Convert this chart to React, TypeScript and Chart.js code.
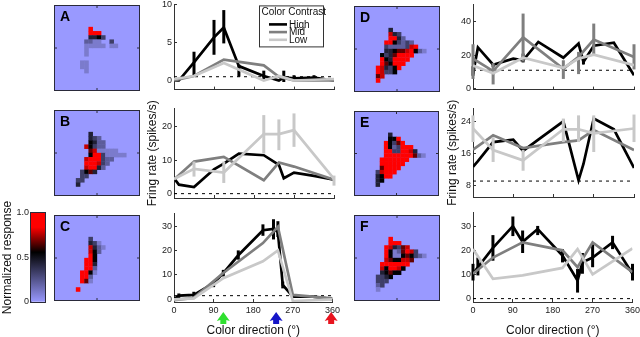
import React, { useEffect, useRef } from "react";
import { Chart, registerables } from "chart.js";

Chart.register(...registerables);
Chart.defaults.font.family = '"Liberation Sans", Arial, sans-serif';
Chart.defaults.color = "#111";

const FONT = '"Liberation Sans", Arial, sans-serif';

// ---------- Data ----------
const contrastLabels = ["High", "Mid", "Low"];
const contrastColors = ["#000000", "#7f7f7f", "#c8c8c8"];
const legendTitle = "Color Contrast";
const xTitle = "Color direction (°)";
const yTitle = "Fring rate (spikes/s)";
const barTitle = "Normalized response";

const fineDirs = [0, 11, 45, 90, 112, 146, 202, 236, 247, 270, 315, 360];
const coarseDirs = [0, 45, 112, 202, 236, 270, 360];
const cHighDirs = [0, 11, 45, 90, 112, 146, 202, 226, 236, 247, 270, 315, 360];

const aHigh = [0, 0, 2.4, 5.7, 7, 1.9, 0.6, 0, 0.4, 0.3, 0.4, 0];
const aHighLo = [null, null, 0.7, 3.4, 4.9, 0.5, 0.2, null, -0.2, 0, 0.1, null];
const aHighHi = [null, null, 3.8, 8, 9.3, 2.1, 1.3, null, 1.3, 0.7, 0.7, null];
const aMid = [0, 0.6, 2.75, 2, 0.5, 0, 0];
const aLow = [0.2, 0.6, 2.3, 0, 0.6, 0, 0.2];

const bHigh = [4.6, 2.7, 2, 7.3, 9, 12, 11.5, 8.6, 4.6, 6.3, 5.3, 4.2];
const bMid = [4.2, 9.6, 11, 4, 9.3, 8.1, 4.2];
const bLow = [4.4, 7.4, 6.3, 17.8, 17.8, 19, 4.4];
const bLowLo = [null, 5.1, 3.2, 12, 13, 14, 2.4];
const bLowHi = [null, 9.6, 9.6, 23.5, 22.2, 24, 5.4];

const cHigh = [0, 1.4, 1.7, 6.5, 10.7, 18, 28.3, 28.8, 27.5, 5.8, 1, 1, 0];
const cHighLo = [null, 0.3, 1, 4.9, 9.3, 16.2, 26, 24.5, 25.5, 4.4, null, null, null];
const cHighHi = [null, 2.3, 3, 5.8, 12, 20, 30.7, 32.8, 32, 7.2, null, null, null];
const cMid = [-0.4, 0.5, 10.7, 23, 29.7, 1.7, 0.3];
const cLow = [-0.1, 0.3, 8.6, 15.5, 20, -0.8, -0.1];

const dHigh = [8.7, 24.7, 14.3, 18, 17, 28, 18.5, 27, 16, 25.7, 27.5, 8];
const dHighLo = [7.7, null, 13, null, 15.7, null, null, null, 14.5, null, null, null];
const dHighHi = [13.4, null, 15.3, null, 21, null, null, null, 17.5, null, null, null];
const dMid = [18, 10.5, 30.7, 11.9, 19, 29.4, 19];
const dMidLo = [5.8, 2.5, 16.2, 5.8, 8.7, 20, 11.5];
const dMidHi = [26.6, 15.3, 45, 17, 22, 39, 26.6];
const dLow = [13.8, 9.2, 18.5, 12.4, 18, 20.4, 14];

const eHigh = [12.6, 14, 18.8, 19.4, 16.6, 19.4, 24, 9.2, 13.3, 24.7, 22, 12.3];
const eMid = [16.9, 20.5, 17.3, 18.8, 19.2, 21.8, 16.8];
const eLow = [22.2, 16.8, 14.2, 22, 22, 21, 22.2];
const eLowLo = [18.8, 13.8, 11.6, 18.8, 18.8, 16.3, 18.8];
const eLowHi = [25.5, 20, 16.8, 24.7, 25.5, 25.5, 25.7];

const fHigh = [10.3, 13, 21, 30, 23.5, 28.8, 17.8, 7.5, 15, 17, 23.3, 10.3];
const fHighLo = [7.5, 9.6, 15.7, 25.9, 18.9, 26.3, 15, 2.5, 10.3, 13, 20.5, 7.5];
const fHighHi = [14.4, 17, 26.3, 34, 28.2, 30.1, 20.5, 12.3, 18.9, 22.5, 26, 14.4];
const fMid = [10.3, 17, 23.3, 20, 13, 23.3, 11];
const fLow = [20.5, 8.2, 9.6, 12.7, 20.5, 10, 20.8];

const arrowDirs = [112, 232, 357];
const arrowColors = ["#2fe02f", "#1616c8", "#e8141e"];

// Heat-map cells, one string per row: "." = 0, digits = ninths of the response
const heatA = ["", "", "", "", "",
  "........9", "........988", "........4453", ".......2211..3", ".......11111.11",
  ".......1", ".......1", "", "......11", "......11", ".......1"];
const heatB = ["", "", "", "", "",
  "........4", "........432", "........5422", ".......75322", "........6711111",
  "........599311111", ".......7899322", ".......999732", ".......79942", "......3564",
  "......33", ".....33", ".....4"];
const heatC = ["", "", "", "", "",
  "........3", "........431", "........7421", "........752", "........85",
  ".......895", ".......994", ".......982", "......9951", "......982",
  "......961", "", ".....9"];
const heatD = ["", "", "", "", "",
  "........4", "........743", "........9942", ".......9953232", ".......32222379",
  ".......4456678521", "......53469999", "......8548999", "......865999", ".....874358",
  ".....97335", ".....67", ".....8"];
const heatE = ["", "", "", "", "",
  "........4", "........558", ".......85368", ".......8523888", ".......88338974",
  ".......9999998621", "......9999999", "......899999", "......69999", ".....37999",
  ".....4589", ".....45", ".....4"];
const heatF = ["", "", "", "", "",
  "........9", "........988", ".......874367", ".......95126873", ".......8511565321",
  ".......7655776", "......8998998", "......759975", "......45655", ".....3345",
  ".....333", ".....23", ".....1"];

// ---------- Helpers ----------
const LOW_RGB = [153, 153, 255];
function responseColor(v: number) {
  if (v <= 0.56) {
    const t = 1 - v / 0.56;
    return `rgb(${LOW_RGB.map((c) => Math.round(c * t)).join(",")})`;
  }
  const t = Math.min(1, (v - 0.56) / 0.28);
  return `rgb(${Math.round(255 * t)},0,0)`;
}

const errorBarsPlugin = {
  id: "errorBars",
  afterDatasetDraw(chart: any, args: any) {
    const ds = chart.data.datasets[args.index];
    if (!ds.lo) return;
    const { ctx, scales } = chart;
    ctx.save();
    ctx.strokeStyle = ds.borderColor;
    ctx.lineWidth = 3;
    ds.data.forEach((p: any, i: number) => {
      if (ds.lo[i] == null) return;
      const x = scales.x.getPixelForValue(p.x);
      ctx.beginPath();
      ctx.moveTo(x, scales.y.getPixelForValue(ds.lo[i]));
      ctx.lineTo(x, scales.y.getPixelForValue(ds.hi[i]));
      ctx.stroke();
    });
    ctx.restore();
  },
};

const legendPlugin = {
  id: "contrastLegend",
  afterDraw(chart: any) {
    const { ctx, chartArea } = chart;
    const left = chartArea.left + 85;
    const top = chartArea.top + 1;
    ctx.save();
    ctx.fillStyle = "#fff";
    ctx.strokeStyle = "#333";
    ctx.lineWidth = 1;
    ctx.fillRect(left, top, 65, 42);
    ctx.strokeRect(left + 0.5, top + 0.5, 64, 41);
    ctx.fillStyle = "#111";
    ctx.font = `10px ${FONT}`;
    ctx.textBaseline = "middle";
    ctx.textAlign = "left";
    ctx.fillText(legendTitle, left + 2.5, top + 6.5);
    contrastLabels.forEach((label, i) => {
      const y = top + 19 + i * 7.7;
      ctx.strokeStyle = contrastColors[i];
      ctx.lineWidth = 2.6;
      ctx.beginPath();
      ctx.moveTo(left + 10, y);
      ctx.lineTo(left + 28, y);
      ctx.stroke();
      ctx.fillStyle = "#111";
      ctx.fillText(label, left + 30, y + 0.5);
    });
    ctx.restore();
  },
};

const arrowsPlugin = {
  id: "arrows",
  afterDraw(chart: any) {
    const { ctx, scales, chartArea } = chart;
    const tip = chartArea.bottom + 10;
    ctx.save();
    arrowDirs.forEach((d, i) => {
      const x = scales.x.getPixelForValue(d);
      ctx.fillStyle = arrowColors[i];
      ctx.beginPath();
      ctx.moveTo(x, tip);
      ctx.lineTo(x + 6.5, tip + 9);
      ctx.lineTo(x + 3, tip + 8);
      ctx.lineTo(x + 3, tip + 12);
      ctx.lineTo(x - 3, tip + 12);
      ctx.lineTo(x - 3, tip + 8);
      ctx.lineTo(x - 6.5, tip + 9);
      ctx.closePath();
      ctx.fill();
    });
    ctx.restore();
  },
};

const heatBackPlugin = {
  id: "heatBack",
  beforeDatasetsDraw(chart: any) {
    const { ctx, chartArea: a } = chart;
    ctx.save();
    ctx.fillStyle = responseColor(0);
    ctx.fillRect(a.left, a.top, a.width, a.height);
    ctx.restore();
  },
};

const framePlugin = {
  id: "frame",
  afterDraw(chart: any, _args: any, opts: any) {
    const { ctx, chartArea: a } = chart;
    ctx.save();
    ctx.strokeStyle = "#2a2a3a";
    ctx.lineWidth = 1;
    ctx.strokeRect(a.left - 0.5, a.top - 0.5, a.width + 1, a.height + 1);
    if (opts.letter) {
      const cx = (a.left + a.right) / 2;
      const cy = (a.top + a.bottom) / 2;
      ctx.beginPath();
      ctx.moveTo(cx, a.top);
      ctx.lineTo(cx, a.top + 2);
      ctx.moveTo(cx, a.bottom);
      ctx.lineTo(cx, a.bottom - 2);
      ctx.moveTo(a.left, cy);
      ctx.lineTo(a.left + 2, cy);
      ctx.moveTo(a.right, cy);
      ctx.lineTo(a.right - 2, cy);
      ctx.stroke();
      ctx.fillStyle = "#000";
      ctx.font = `bold 14px ${FONT}`;
      ctx.textBaseline = "alphabetic";
      ctx.textAlign = "left";
      ctx.fillText(opts.letter, a.left + 5, a.top + 15);
    }
    ctx.restore();
  },
};

function line(i: number, xs: number[], ys: number[], lo?: any[], hi?: any[]) {
  return {
    type: "line",
    label: contrastLabels[i],
    data: xs.map((x, k) => ({ x, y: ys[k] })),
    lo,
    hi,
    borderColor: contrastColors[i],
    borderWidth: 2.7,
    pointRadius: 0,
    tension: 0,
    borderJoinStyle: "miter",
    fill: false,
  };
}

function dashed(y: number) {
  return {
    type: "line",
    label: "Baseline",
    data: [
      { x: 0, y },
      { x: 360, y },
    ],
    borderColor: "#000",
    borderWidth: 1,
    borderDash: [3, 4],
    pointRadius: 0,
  };
}

const axisGrid = { drawOnChartArea: false, tickLength: -3, tickColor: "#333", tickWidth: 1 };
const axisBorder = { color: "#333", width: 1 };

type LineCfg = {
  datasets: any[];
  plot: [number, number, number, number]; // left, right, top, bottom
  axisWidth: number;
  canvasTop: number;
  canvasBottom: number;
  yMin: number;
  yMax: number;
  yStep: number;
  showX?: boolean;
  showYTitle?: boolean;
  plugins?: any[];
};

const lineCfgs: LineCfg[] = [
  {
    datasets: [line(2, coarseDirs, aLow), line(1, coarseDirs, aMid), line(0, fineDirs, aHigh, aHighLo, aHighHi), dashed(0.5)],
    plot: [174, 334, 4, 93], axisWidth: 29, canvasTop: -6, canvasBottom: 100,
    yMin: -1.2, yMax: 10.05, yStep: 5, plugins: [legendPlugin],
  },
  {
    datasets: [line(2, coarseDirs, bLow, bLowLo, bLowHi), line(1, coarseDirs, bMid), line(0, fineDirs, bHigh), dashed(0)],
    plot: [174, 334, 108, 198], axisWidth: 29, canvasTop: 98, canvasBottom: 212,
    yMin: -1.3, yMax: 25.5, yStep: 10, showYTitle: true,
  },
  {
    datasets: [line(2, coarseDirs, cLow), line(1, coarseDirs, cMid), line(0, cHighDirs, cHigh, cHighLo, cHighHi), dashed(1.4)],
    plot: [174, 334, 213, 302], axisWidth: 29, canvasTop: 203, canvasBottom: 338,
    yMin: -1.2, yMax: 35.2, yStep: 10, showX: true, plugins: [arrowsPlugin],
  },
  {
    datasets: [line(2, coarseDirs, dLow), line(1, coarseDirs, dMid, dMidLo, dMidHi), line(0, fineDirs, dHigh, dHighLo, dHighHi), dashed(11)],
    plot: [473, 634, 4, 95], axisWidth: 29, canvasTop: -6, canvasBottom: 100,
    yMin: -0.6, yMax: 50.5, yStep: 20,
  },
  {
    datasets: [line(2, coarseDirs, eLow, eLowLo, eLowHi), line(1, coarseDirs, eMid), line(0, fineDirs, eHigh), dashed(9)],
    plot: [473, 634, 108, 197], axisWidth: 28, canvasTop: 98, canvasBottom: 212,
    yMin: 5, yMax: 27.25, yStep: 8, showYTitle: true,
  },
  {
    datasets: [line(2, coarseDirs, fLow), line(1, coarseDirs, fMid), line(0, fineDirs, fHigh, fHighLo, fHighHi), dashed(0)],
    plot: [473, 634, 212, 302], axisWidth: 29, canvasTop: 202, canvasBottom: 338,
    yMin: -1.4, yMax: 35.7, yStep: 10, showX: true,
  },
];

const heatCfgs = [
  { letter: "A", rows: heatA, left: 53, top: 4, size: 88 },
  { letter: "B", rows: heatB, left: 53, top: 109, size: 88 },
  { letter: "C", rows: heatC, left: 53, top: 214, size: 88 },
  { letter: "D", rows: heatD, left: 353, top: 5, size: 88 },
  { letter: "E", rows: heatE, left: 353, top: 110, size: 87 },
  { letter: "F", rows: heatF, left: 353, top: 214, size: 88 },
];

const GRID = 20;

export default function App() {
  const root = useRef<HTMLDivElement>(null);

  useEffect(() => {
    const host = root.current!;
    const charts: Chart[] = [];
    const addCanvas = (left: number, top: number, width: number, height: number, blur: number) => {
      const c = document.createElement("canvas");
      c.width = width;
      c.height = height;
      c.style.cssText = `position:absolute;left:${left}px;top:${top}px;width:${width}px;height:${height}px;display:block;filter:blur(${blur}px)`;
      host.appendChild(c);
      return c;
    };

    // Heat maps
    heatCfgs.forEach((h) => {
      const cells: any[] = [];
      h.rows.forEach((row, r) => {
        for (let c = 0; c < row.length; c++) {
          const ch = row.charAt(c);
          if (ch !== ".") cells.push({ x: c + 0.5, y: r + 0.5, v: Number(ch) / 9 });
        }
      });
      const pad = 2;
      const canvas = addCanvas(h.left - pad, h.top - pad, h.size + pad * 2, h.size + pad * 2, 0.5);
      const radius = (h.size / GRID) * Math.SQRT1_2 + 0.1;
      charts.push(
        new Chart(canvas, {
          type: "scatter",
          data: {
            datasets: [
              {
                data: cells,
                pointStyle: "rect",
                pointRadius: radius,
                pointBorderWidth: 0,
                pointBackgroundColor: (ctx: any) => responseColor(ctx.raw ? ctx.raw.v : 0),
              },
            ],
          } as any,
          options: {
            responsive: false,
            animation: false,
            layout: { padding: pad },
            scales: {
              x: { display: false, min: 0, max: GRID },
              y: { display: false, min: 0, max: GRID, reverse: true },
            },
            plugins: {
              legend: { display: false },
              tooltip: { enabled: false },
              frame: { letter: h.letter },
            },
          } as any,
          plugins: [heatBackPlugin, framePlugin],
        })
      );
    });

    // Colour bar
    const barCanvas = addCanvas(0, 190, 47, 135, 0.3);
    charts.push(
      new Chart(barCanvas, {
        type: "bar",
        data: {
          labels: [""],
          datasets: [
            {
              data: [1],
              barPercentage: 1,
              categoryPercentage: 1,
              backgroundColor: (ctx: any) => {
                const a = ctx.chart.chartArea;
                if (!a) return "#000";
                const g = ctx.chart.ctx.createLinearGradient(0, a.bottom, 0, a.top);
                g.addColorStop(0, responseColor(0));
                g.addColorStop(0.56, responseColor(0.56));
                g.addColorStop(0.84, responseColor(0.84));
                g.addColorStop(1, responseColor(1));
                return g;
              },
            },
          ],
        } as any,
        options: {
          responsive: false,
          animation: false,
          layout: { padding: { top: 23, bottom: 23, right: 2, left: 0 } },
          scales: {
            x: { display: false },
            y: {
              min: 0,
              max: 1,
              afterFit: (s: any) => {
                s.width = 31;
              },
              ticks: { stepSize: 0.5, font: { size: 9 }, padding: 5, color: "#222", includeBounds: false },
              grid: axisGrid,
              border: axisBorder,
              title: { display: true, text: barTitle, font: { size: 12 }, padding: 0, color: "#111" },
            },
          },
          plugins: { legend: { display: false }, tooltip: { enabled: false }, frame: {} },
        } as any,
        plugins: [framePlugin],
      })
    );

    // Line panels
    lineCfgs.forEach((p) => {
      const [pl, pr, pt, pb] = p.plot;
      const rightPad = 12;
      const left = pl - p.axisWidth;
      const canvas = addCanvas(left, p.canvasTop, pr + rightPad - left, p.canvasBottom - p.canvasTop, 0.3);
      charts.push(
        new Chart(canvas, {
          type: "line",
          data: { datasets: p.datasets },
          options: {
            responsive: false,
            animation: false,
            parsing: false,
            normalized: false,
            layout: { padding: { top: pt - p.canvasTop, right: rightPad, left: 0, bottom: 0 } },
            scales: {
              x: {
                type: "linear",
                min: 0,
                max: 360,
                afterFit: (s: any) => {
                  s.height = p.canvasBottom - pb;
                },
                ticks: {
                  display: !!p.showX,
                  stepSize: 90,
                  autoSkip: false,
                  maxRotation: 0,
                  font: { size: 9 },
                  padding: 6,
                  color: "#222",
                },
                grid: axisGrid,
                border: axisBorder,
                title: { display: !!p.showX, text: xTitle, font: { size: 12 }, padding: 0, color: "#111" },
              },
              y: {
                type: "linear",
                min: p.yMin,
                max: p.yMax,
                afterFit: (s: any) => {
                  s.width = p.axisWidth;
                },
                ticks: { stepSize: p.yStep, font: { size: 9 }, padding: 5, color: "#222", includeBounds: false },
                grid: axisGrid,
                border: axisBorder,
                title: { display: !!p.showYTitle, text: yTitle, font: { size: 12 }, padding: 0, color: "#111" },
              },
            },
            plugins: { legend: { display: false }, tooltip: { enabled: false } },
          } as any,
          plugins: [errorBarsPlugin, ...(p.plugins || [])],
        })
      );
    });

    return () => {
      charts.forEach((c) => c.destroy());
      host.innerHTML = "";
    };
  }, []);

  return (
    <div
      ref={root}
      style={{ position: "fixed", left: 0, top: 0, width: 640, height: 337, overflow: "hidden", background: "#fff" }}
    />
  );
}
